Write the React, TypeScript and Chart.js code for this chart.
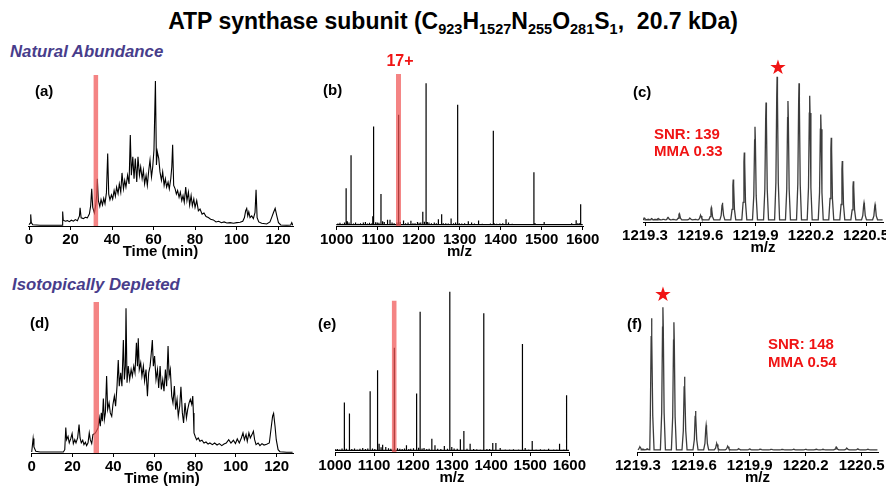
import React, { useEffect, useRef } from 'react';
import { Chart, registerables } from 'chart.js';

Chart.register(...registerables);

const FONT = '"Liberation Sans", Arial, Helvetica, sans-serif';

// ---------- Tick labels ----------
const TICKS_TIME = [0, 20, 40, 60, 80, 100, 120];
const TICKS_MZ = [1000, 1100, 1200, 1300, 1400, 1500, 1600];
const TICKS_ISO = [1219.3, 1219.6, 1219.9, 1220.2, 1220.5];

// ---------- (a) Natural abundance chromatogram: [time (min), relative intensity] ----------
const CHROM_A: [number, number][] = [
  [0, 1], [0.6, 2], [0.8, 8], [1.1, 2.3], [1.8, 0.8], [5.3, 0.5], [14.9, 0.5], [16.1, 0.5], [16.2, 10], [16.5, 4],
  [17.5, 3.3], [18.5, 3.7], [19.4, 3], [20.4, 4], [21.4, 3.3], [22.3, 4.4], [23.3, 3.7], [24.3, 7], [24.6, 12.6], [25.1, 5.6],
  [26.2, 5.1], [27.1, 6], [28.1, 5.6], [29.1, 8.4], [29.7, 14], [30.2, 25.6], [30.7, 12.8], [31.5, 8.9], [32.1, 14], [32.6, 21],
  [32.9, 32.6], [33.4, 17.5], [34.1, 13.5], [34.7, 18.2], [35.4, 14.5], [36.0, 19], [36.6, 15.4], [37.3, 23], [37.9, 49.9], [38.4, 22],
  [39.0, 18], [39.7, 21.4], [40.3, 18.6], [41.0, 24.5], [41.6, 20.5], [42.2, 26.8], [42.9, 22.4], [43.5, 29], [44.2, 23.3], [44.8, 36.6],
  [45.5, 25.6], [46.1, 31.5], [46.7, 26.8], [47.5, 35], [48.2, 29], [48.8, 62.7], [49.3, 35], [50.0, 47.8], [50.6, 32.6], [51.2, 46.6],
  [51.9, 30.3], [52.5, 47.8], [53.2, 35], [53.8, 40.8], [54.5, 32.6], [55.1, 38.5], [55.7, 29], [56.4, 35], [57.0, 28], [57.7, 38.5],
  [58.3, 45.5], [59.0, 33.8], [59.6, 40.8], [60.2, 52.4], [60.9, 100], [61.4, 42], [61.8, 51.3], [62.5, 46.6], [63.1, 37.3], [63.8, 31.5],
  [64.4, 37.3], [65.1, 28], [65.7, 32.6], [66.3, 26.8], [67.0, 30.3], [67.6, 25.6], [68.3, 32.6], [68.8, 40.8], [69.2, 56], [69.7, 28],
  [70.4, 25.6], [71.0, 22], [71.6, 24.5], [72.3, 19.8], [72.9, 23.3], [73.6, 17.5], [74.2, 21], [74.8, 16.3], [75.5, 26.8], [76.1, 17.5],
  [76.8, 23.3], [77.4, 14.5], [78.1, 21], [78.7, 14], [79.4, 18.6], [80.0, 12.8], [80.8, 17.5], [81.6, 10.5], [82.4, 11.7], [83.4, 8.2],
  [84.3, 8.9], [85.3, 6.5], [86.4, 5.8], [87.5, 4.7], [88.8, 4.2], [90.1, 2.8], [91.4, 3.3], [92.7, 2.3], [94.0, 2.8], [95.3, 2.1],
  [96.9, 2.3], [98.5, 1.9], [100.1, 2.3], [101.7, 2.6], [103.0, 3.3], [103.8, 5.8], [104.4, 10.5], [104.9, 12.1], [105.4, 7], [105.9, 9.8],
  [106.5, 5.8], [107.3, 7], [108.1, 5.1], [108.9, 9.3], [109.4, 25], [109.9, 5.8], [110.7, 2.8], [112.1, 1.9], [114.5, 1.4], [116.1, 2.8],
  [116.9, 5.8], [117.8, 9.3], [118.6, 12.1], [119.4, 7], [120.2, 2.3], [121.3, 0.7], [124.2, 0.5], [126.1, 0.7], [126.6, 2.3], [127.1, 0.5],
];

// ---------- (d) Isotopically depleted chromatogram ----------
const CHROM_D: [number, number][] = [
  [0, 0.7], [0.3, 4.6], [0.7, 10], [1.1, 4.2], [2.0, 1.2], [4.1, 0.7], [15.5, 0.7], [16.2, 2.3], [16.7, 17.6], [17.1, 9.2],
  [17.8, 11.5], [18.4, 7], [19.1, 9.7], [19.8, 13.4], [20.4, 6.5], [21.1, 9.2], [21.7, 7], [22.5, 10.4], [23.2, 19.6], [23.7, 10.4],
  [24.3, 7], [25.0, 8.8], [25.6, 5.8], [26.3, 7.4], [26.9, 5.1], [27.6, 7], [28.2, 13.9], [28.7, 9.2], [29.4, 6.5], [30.0, 12.7],
  [30.9, 13.4], [31.7, 15], [32.5, 17.3], [33.1, 24.2], [33.6, 18.5], [34.1, 27.7], [34.6, 21.9], [35.1, 37.6], [35.6, 23.1], [36.1, 27.7],
  [36.7, 53.1], [37.2, 30], [37.9, 34.6], [38.5, 27.7], [39.2, 25.4], [39.8, 33.5], [40.5, 39.3], [41.1, 32.3], [41.8, 46.2], [42.4, 64.2],
  [42.9, 46.2], [43.6, 55.4], [44.2, 46.2], [44.9, 78], [45.4, 50.8], [45.9, 60], [46.2, 100], [46.7, 48.5], [47.3, 60], [48.0, 50.8],
  [48.7, 57.7], [49.3, 53.1], [50.0, 60], [50.6, 55.4], [51.3, 76.2], [51.8, 60], [52.2, 79.2], [52.7, 57.7], [53.4, 62.4], [54.0, 53.1],
  [54.7, 60], [55.3, 49.7], [56.0, 57.7], [56.7, 39.3], [57.3, 55.4], [58.0, 60], [58.6, 69.3], [59.1, 78], [59.6, 60], [60.2, 67],
  [60.9, 50.8], [61.6, 57.7], [62.2, 45], [62.9, 60], [63.5, 43.9], [64.2, 50.8], [64.8, 42.7], [65.5, 57.7], [66.1, 46.2], [66.8, 73.9],
  [67.3, 53.1], [67.9, 57.7], [68.6, 39.3], [69.2, 34.6], [69.9, 46.2], [70.5, 30], [71.2, 37], [71.8, 25.4], [72.5, 32.3], [73.1, 45.7],
  [73.8, 27.7], [74.4, 20.8], [75.1, 34.6], [75.8, 24.2], [76.4, 30], [77.1, 34.6], [77.7, 37], [78.4, 33.5], [78.9, 39.3], [79.2, 27.7],
  [79.5, 13.9], [80.2, 11.1], [80.8, 9.2], [81.6, 10.4], [82.4, 8.1], [83.4, 8.8], [84.4, 6.9], [85.4, 7.6], [86.4, 6.2], [87.3, 6.9],
  [88.5, 5.8], [89.6, 6.9], [90.8, 5.5], [91.9, 6.5], [93.1, 5.1], [94.2, 6.2], [95.3, 6.9], [96.5, 9.2], [97.6, 6.9], [98.8, 8.8],
  [99.8, 6.5], [100.7, 9.7], [101.7, 6.9], [102.7, 10.4], [103.5, 13.9], [104.2, 9.2], [105.0, 12.7], [105.6, 8.1], [106.4, 13.9], [107.1, 10.4],
  [107.9, 12.7], [108.6, 15], [109.2, 9.2], [109.9, 5.8], [110.9, 6.9], [111.8, 5.1], [112.8, 6.5], [113.8, 5.5], [115.1, 6], [116.4, 6.9],
  [117.2, 16.2], [118.0, 25.4], [118.5, 27.3], [119.2, 18.5], [119.8, 9.2], [120.7, 2.3], [121.6, 0.9], [124.9, 0.5], [127.8, 0.5],
];

// ---------- (b) Natural abundance mass spectrum ----------
const MAIN_B_MZ = [1023, 1035, 1090, 1108, 1151, 1210, 1218, 1295, 1382, 1481, 1595];
const MAIN_B_INT = [26.5, 49.5, 69.7, 22.5, 78, 10, 100, 85, 66.8, 37.7, 15.2];
const MINOR_B_MZ = [1003, 1008, 1014, 1019, 1026, 1030, 1041, 1046, 1052, 1058, 1065, 1070, 1075, 1080, 1085, 1088, 1095, 1099, 1103, 1112,
  1116, 1124, 1130, 1135, 1140, 1147, 1155, 1163, 1168, 1174, 1181, 1186, 1191, 1197, 1201, 1205, 1214, 1221, 1225, 1231,
  1238, 1243, 1248, 1256, 1260, 1266, 1272, 1279, 1285, 1290, 1299, 1305, 1312, 1321, 1329, 1336, 1346, 1355, 1366, 1375,
  1384, 1390, 1398, 1405, 1413, 1419, 1428, 1439, 1450, 1463, 1470, 1484, 1495, 1506, 1515, 1528, 1540, 1553, 1565, 1573, 1584, 1588, 1592];
const MINOR_B_INT = [1.8, 2.2, 1.6, 2.5, 3.3, 2.4, 1.8, 2.4, 1.6, 2, 2.4, 2.8, 1.8, 2.2, 1.8, 6.9, 2.6, 2.4, 2.2, 3.3,
  2.8, 4.3, 4.3, 2.5, 2, 2.4, 2.8, 3.8, 2, 2.4, 3.6, 2, 1.9, 2.8, 2.2, 2.4, 3, 2.8, 2.5, 2,
  2.4, 2, 4.7, 8.3, 2, 1.9, 1.8, 5.2, 2, 2.4, 1.9, 1.8, 2, 3.3, 2.4, 1.8, 3.8, 1.6, 1.4, 1.8,
  1.9, 1.6, 1.8, 1.9, 4.7, 2.4, 1.6, 1.2, 1.4, 1.2, 1.4, 1.9, 1.4, 2.8, 1.4, 1.2, 1.4, 1.2, 1.4, 1.9, 4, 1.9, 2];

// ---------- (e) Isotopically depleted mass spectrum ----------
const MAIN_E_MZ = [1024, 1037, 1090, 1109, 1152, 1209, 1218, 1294, 1330, 1381, 1480, 1505, 1593];
const MAIN_E_INT = [30.8, 24, 37.9, 51, 65, 36.5, 87.5, 100, 13.1, 86.5, 67.3, 6.9, 35.4];
const MINOR_E_MZ = [1001, 1006, 1012, 1018, 1029, 1043, 1050, 1057, 1064, 1071, 1078, 1084, 1096, 1102, 1113, 1118, 1122, 1130, 1137, 1143,
  1160, 1166, 1172, 1178, 1183, 1189, 1194, 1201, 1214, 1223, 1228, 1235, 1241, 1248, 1256, 1263, 1271, 1280, 1288, 1299,
  1305, 1313, 1321, 1338, 1346, 1355, 1363, 1372, 1389, 1396, 1404, 1412, 1423, 1436, 1447, 1457, 1470, 1487, 1496, 1515,
  1526, 1536, 1547, 1560, 1568, 1575, 1586];
const MINOR_E_INT = [1.7, 1.8, 1.6, 2.2, 2, 1.8, 2.2, 1.6, 2, 2.5, 1.8, 2.2, 2.2, 1.8, 5.2, 3, 4.6, 3.1, 2.4, 2,
  2.4, 2.1, 1.8, 2.2, 4.2, 1.8, 2.1, 2.4, 2.6, 2.2, 2.5, 1.8, 2, 8.3, 4.2, 2, 1.8, 3.8, 2, 3.1,
  2.2, 2, 7.9, 2, 5.2, 1.8, 1.7, 1.6, 1.8, 1.8, 5.6, 5.6, 2.5, 1.6, 1.5, 1.7, 1.5, 2.5, 1.5, 1.6,
  1.7, 1.5, 2.1, 1.5, 1.6, 5.2, 1.5];

// ---------- (c) Natural abundance isotopic distribution (17+) ----------
const ISO_C_MZ = [1219.486, 1219.602, 1219.660, 1219.720, 1219.779, 1219.839, 1219.897, 1219.957, 1220.017, 1220.076,
  1220.136, 1220.194, 1220.254, 1220.311, 1220.371, 1220.431, 1220.489, 1220.549];
const ISO_C_INT = [5.7, 4.6, 9.9, 13.3, 29.2, 47.8, 65.5, 82.3, 100, 83.2, 95.4, 86.9, 74, 57.9, 42, 28, 13.3, 12];
const NOISE_C_MZ = [1219.296, 1219.318, 1219.336, 1219.355, 1219.372, 1219.400, 1219.425, 1219.454, 1219.544, 1219.573];
const NOISE_C_INT = [2.8, 1.9, 2.2, 1.8, 2.4, 1.9, 3.2, 1.8, 2.6, 1.8];

// ---------- (f) Isotopically depleted isotopic distribution ----------
const ISO_F_MZ = [1219.373, 1219.434, 1219.493, 1219.550, 1219.609, 1219.666, 1219.723, 1219.782];
const ISO_F_INT = [92.4, 100, 89.6, 52, 28.4, 18.5, 5.8, 3.9];
const NOISE_F_MZ = [1219.311, 1219.328, 1219.350, 1219.841, 1219.900, 1219.957, 1220.016, 1220.075, 1220.136, 1220.200,
  1220.257, 1220.293, 1220.364, 1220.421, 1220.480, 1220.534];
const NOISE_F_INT = [3.5, 2.0, 2.2, 2.2, 2.0, 2.0, 1.9, 1.8, 1.9, 1.8, 2.0, 1.9, 3.5, 2.6, 2.1, 1.9];

// ---------- Selected windows (red bars): [from, to, top] ----------
const WINDOW_A = [31.0, 33.4, 104.1];
const WINDOW_B = [1144.6, 1156.8, 106.5];
const WINDOW_D = [30.2, 33.0, 104.4];
const WINDOW_E = [1145.2, 1158.0, 94.4];

type Pt = { x: number; y: number };

function chromPoints(rows: [number, number][]): Pt[] {
  return rows.map(([x, y]) => ({ x, y }));
}

function stickPoints(mz: number[], ints: number[], mz2: number[], ints2: number[], range: [number, number], base: number): Pt[] {
  const all = mz.map((m, i) => [m, ints[i]]).concat(mz2.map((m, i) => [m, ints2[i]]));
  all.sort((a, b) => a[0] - b[0]);
  const pts: Pt[] = [{ x: range[0], y: base }];
  for (const [m, h] of all) {
    pts.push({ x: m, y: base }, { x: m, y: h }, { x: m, y: base });
  }
  pts.push({ x: range[1], y: base });
  return pts;
}

// relative peak profile (offset in m/z, fraction of height)
const PEAK_SHAPE: [number, number][] = [[-0.0135, 0], [-0.0065, 0.26], [-0.002, 0.86], [0, 1], [0.002, 0.86], [0.0065, 0.26], [0.0135, 0]];

function profilePoints(mz: number[], ints: number[], mz2: number[], ints2: number[], range: [number, number], base: number): Pt[] {
  const all = mz.map((m, i) => [m, ints[i]]).concat(mz2.map((m, i) => [m, ints2[i]]));
  all.sort((a, b) => a[0] - b[0]);
  const pts: Pt[] = [{ x: range[0], y: base }];
  for (const [m, h] of all) {
    for (const [dx, f] of PEAK_SHAPE) pts.push({ x: m + dx, y: base + (h - base) * f });
  }
  pts.push({ x: range[1], y: base });
  return pts;
}

type Panel = {
  key: string;
  left: number; right: number; top: number; axis: number;
  xMin: number; xMax: number; yMax: number;
  ticks: number[]; dec: number; title: string;
  points: Pt[]; color: string; lw: number;
  win?: number[];
};

const PANELS: Panel[] = [
  { key: 'a', left: 28, right: 293, top: 74, axis: 226, xMin: -0.5, xMax: 127.2, yMax: 104.8, ticks: TICKS_TIME, dec: 0, title: 'Time (min)',
    points: chromPoints(CHROM_A), color: '#000', lw: 1.1, win: WINDOW_A },
  { key: 'b', left: 336, right: 583, top: 74, axis: 226, xMin: 998.3, xMax: 1600.7, yMax: 106.5, ticks: TICKS_MZ, dec: 0, title: 'm/z',
    points: stickPoints(MAIN_B_MZ, MAIN_B_INT, MINOR_B_MZ, MINOR_B_INT, [999, 1600], 1.0), color: '#000', lw: 1.2, win: WINDOW_B },
  { key: 'c', left: 643, right: 883, top: 62, axis: 222, xMin: 1219.289, xMax: 1220.592, yMax: 110.1, ticks: TICKS_ISO, dec: 1, title: 'm/z',
    points: profilePoints(ISO_C_MZ, ISO_C_INT, NOISE_C_MZ, NOISE_C_INT, [1219.29, 1220.59], 1.5), color: '#3c3c3c', lw: 1.3 },
  { key: 'd', left: 31, right: 293, top: 300, axis: 453, xMin: -0.34, xMax: 128, yMax: 105.7, ticks: TICKS_TIME, dec: 0, title: 'Time (min)',
    points: chromPoints(CHROM_D), color: '#000', lw: 1.1, win: WINDOW_D },
  { key: 'e', left: 335, right: 569, top: 288, axis: 452, xMin: 1000, xMax: 1599.2, yMax: 102.3, ticks: TICKS_MZ, dec: 0, title: 'm/z',
    points: stickPoints(MAIN_E_MZ, MAIN_E_INT, MINOR_E_MZ, MINOR_E_INT, [1000, 1599], 1.0), color: '#000', lw: 1.2, win: WINDOW_E },
  { key: 'f', left: 637, right: 878, top: 296, axis: 452, xMin: 1219.295, xMax: 1220.588, yMax: 107.8, ticks: TICKS_ISO, dec: 1, title: 'm/z',
    points: profilePoints(ISO_F_MZ, ISO_F_INT, NOISE_F_MZ, NOISE_F_INT, [1219.3, 1220.585], 1.5), color: '#3c3c3c', lw: 1.3 },
];

const PADX = 40;
const PADT = 4;
const AXIS_H = 35;

function canvasBox(p: Panel) {
  return {
    left: p.left - PADX,
    top: p.top - PADT,
    width: p.right - p.left + 2 * PADX,
    height: p.axis - p.top + PADT + AXIS_H,
  };
}

function buildConfig(p: Panel): any {
  const datasets: any[] = [];
  if (p.win) {
    datasets.push({
      data: [{ x: p.win[0], y: p.win[2] }, { x: p.win[1], y: p.win[2] }],
      showLine: true, borderWidth: 0, borderColor: 'rgba(0,0,0,0)', pointRadius: 0,
      fill: 'origin', backgroundColor: 'rgba(240,84,84,0.72)',
    });
  }
  datasets.push({
    data: p.points, showLine: true, borderColor: p.color, borderWidth: p.lw, pointRadius: 0,
    fill: false, tension: 0, borderJoinStyle: 'miter',
  });
  const tickFont = { family: FONT, size: 15, weight: 'bold' as const };
  return {
    type: 'scatter',
    data: { datasets },
    options: {
      animation: false,
      responsive: false,
      maintainAspectRatio: false,
      devicePixelRatio: 1,
      events: [],
      layout: { padding: { left: PADX, right: PADX, top: PADT, bottom: 0 }, autoPadding: false },
      plugins: { legend: { display: false }, tooltip: { enabled: false }, title: { display: false } },
      scales: {
        x: {
          type: 'linear',
          position: 'bottom',
          min: p.xMin,
          max: p.xMax,
          border: { display: true, color: '#000', width: 1 },
          grid: { display: true, drawOnChartArea: false, drawTicks: true, tickLength: 4, color: '#000', lineWidth: 1 },
          ticks: {
            color: '#000', font: tickFont, padding: 1, maxRotation: 0, minRotation: 0, autoSkip: false,
            callback: (v: any) => Number(v).toFixed(p.dec),
          },
          title: { display: true, text: p.title, color: '#000', font: tickFont, padding: { top: 0, bottom: 0 } },
          afterBuildTicks: (s: any) => { s.ticks = p.ticks.map((v) => ({ value: v })); },
          afterFit: (s: any) => { s.height = AXIS_H; },
        },
        y: { display: false, min: 0, max: p.yMax },
      },
    },
  };
}

type LabelProps = { x: number; y: number; text: React.ReactNode; size: number; color?: string; italic?: boolean; center?: boolean; family?: string };

function Label({ x, y, text, size, color = '#000', italic = false, center = false, family = FONT }: LabelProps) {
  return (
    <div
      style={{
        position: 'absolute', left: x, top: y, transform: `translate(${center ? '-50%' : '0'}, -50%)`,
        fontFamily: family, fontSize: size, fontWeight: 'bold', fontStyle: italic ? 'italic' : 'normal',
        color, lineHeight: 1, whiteSpace: 'nowrap',
      }}
    >
      {text}
    </div>
  );
}

const SUB: React.CSSProperties = { fontSize: 14.5, verticalAlign: 'baseline', position: 'relative', top: 5 };

export default function App() {
  const refs = useRef<(HTMLCanvasElement | null)[]>([]);
  useEffect(() => {
    const charts = PANELS.map((p, i) => new Chart(refs.current[i] as HTMLCanvasElement, buildConfig(p)));
    return () => charts.forEach((c) => c.destroy());
  }, []);

  const purple = '#483D8B';
  const red = '#f01414';

  return (
    <div style={{ position: 'absolute', left: 0, top: 0, width: 886, height: 488, overflow: 'hidden', background: '#fff' }}>
      {PANELS.map((p, i) => {
        const b = canvasBox(p);
        return (
          <canvas
            key={p.key}
            ref={(el) => { refs.current[i] = el; }}
            width={b.width}
            height={b.height}
            style={{ position: 'absolute', left: b.left, top: b.top, width: b.width, height: b.height }}
          />
        );
      })}

      <Label x={453} y={21} size={23} center text={
        <span>
          ATP synthase subunit (C<span style={SUB}>923</span>H<span style={SUB}>1527</span>N<span style={SUB}>255</span>O<span style={SUB}>281</span>S<span style={SUB}>1</span>,{'\u00a0\u00a0'}20.7 kDa)
        </span>
      } />

      <Label x={10} y={52} size={16.8} italic color={purple} text="Natural Abundance" />
      <Label x={12} y={285} size={16.8} italic color={purple} text="Isotopically Depleted" />

      <Label x={35} y={90} size={15} text="(a)" />
      <Label x={323} y={89} size={15} text="(b)" />
      <Label x={633} y={91} size={15} text="(c)" />
      <Label x={30} y={322} size={15} text="(d)" />
      <Label x={318} y={323} size={15} text="(e)" />
      <Label x={627} y={323} size={15} text="(f)" />

      <Label x={400} y={61} size={16} center color={red} text="17+" />

      <Label x={654} y={133} size={15} color={red} text="SNR: 139" />
      <Label x={654} y={150} size={15} color={red} text="MMA 0.33" />
      <Label x={768} y={343} size={15} color={red} text="SNR: 148" />
      <Label x={768} y={361} size={15} color={red} text="MMA 0.54" />

      <Label x={778} y={67} size={20} center color={red} family={'"DejaVu Sans", sans-serif'} text={'\u2605'} />
      <Label x={663} y={294} size={20} center color={red} family={'"DejaVu Sans", sans-serif'} text={'\u2605'} />
    </div>
  );
}
